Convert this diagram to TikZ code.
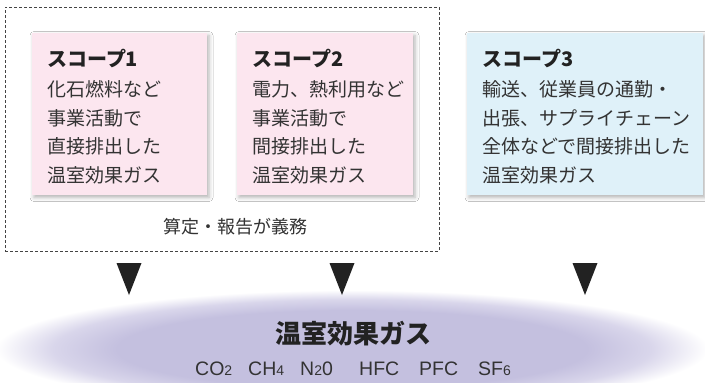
\documentclass[tikz,border=0pt]{standalone}
\usepackage{fontspec}
\usetikzlibrary{shapes.geometric,shadows.blur}
\newfontfamily\jp{Noto Sans CJK JP}
\setmainfont{Liberation Sans}
\definecolor{pinkbg}{HTML}{FCE6EF}
\definecolor{bluebg}{HTML}{DFF1F9}
\definecolor{lav}{HTML}{C4C0DF}
\definecolor{lavmid}{HTML}{D9D6EB}
\definecolor{bodytxt}{HTML}{333333}
\definecolor{titletxt}{HTML}{222222}
\definecolor{dashcol}{HTML}{444444}
\pgfdeclareradialshading{gasglow}{\pgfpoint{0bp}{0bp}}{color(0bp)=(lav); color(16.5bp)=(lav); color(21bp)=(lavmid); color(25bp)=(white); color(50bp)=(white)}
\newcommand{\gsub}[1]{{\fontsize{14}{14}\selectfont\raisebox{-0.5pt}{#1}}}
\begin{document}
\begin{tikzpicture}[x=1pt,y=-1pt,
  scopebox/.style={rectangle, inner sep=0, draw=none,
    blur shadow={shadow xshift=2pt, shadow yshift=-2.5pt, shadow blur radius=4pt, shadow opacity=30}},
  jptitle/.style={anchor=base west, inner sep=0, text=titletxt, font=\jp\bfseries\fontsize{20}{20}\selectfont},
  jpbody/.style={anchor=base west, inner sep=0, text=bodytxt, font=\jp\fontsize{19}{19}\selectfont},
  gasitem/.style={anchor=base west, inner sep=0, text=bodytxt, font=\fontsize{19.5}{19.5}\selectfont},
  tri/.style={fill=titletxt}
]
\useasboundingbox (0,0) rectangle (705,383);
\fill[white] (0,0) rectangle (705,383);
% ellipse
\node[ellipse, shading=gasglow, minimum width=712pt, minimum height=118pt, inner sep=0, draw=none] (gas) at (352,349) {};
% dashed frame
\node[rectangle, draw=dashcol, line width=0.9pt, dash pattern=on 3pt off 2pt, minimum width=434pt, minimum height=244pt, inner sep=0] (frame) at (222,129) {};
% scope boxes
\node[scopebox, fill=pinkbg, minimum width=175pt, minimum height=162pt] (box1) at (119.5,114) {};
\node[scopebox, fill=pinkbg, minimum width=176pt, minimum height=162pt] (box2) at (325,114) {};
\node[scopebox, fill=bluebg, minimum width=236pt, minimum height=162pt] (box3) at (585,114) {};
% box 1 texts
\node[jptitle] (t1) at (47,66.5) {スコープ1};
\node[jpbody] (b1a) at (47,96.5) {化石燃料など};
\node[jpbody] (b1b) at (47,125) {事業活動で};
\node[jpbody] (b1c) at (47,153.5) {直接排出した};
\node[jpbody] (b1d) at (47,182) {温室効果ガス};
% box 2 texts
\node[jptitle] (t2) at (252,66.5) {スコープ2};
\node[jpbody] (b2a) at (252,96.5) {電力、熱利用など};
\node[jpbody] (b2b) at (252,125) {事業活動で};
\node[jpbody] (b2c) at (252,153.5) {間接排出した};
\node[jpbody] (b2d) at (252,182) {温室効果ガス};
% box 3 texts
\node[jptitle] (t3) at (482,66.5) {スコープ3};
\node[jpbody] (b3a) at (482,96.5) {輸送、従業員の通勤・};
\node[jpbody] (b3b) at (482,125) {出張、サプライチェーン};
\node[jpbody] (b3c) at (482,153.5) {全体などで間接排出した};
\node[jpbody] (b3d) at (482,182) {温室効果ガス};
% obligation label
\node[anchor=base, inner sep=0, text=bodytxt, font=\jp\fontsize{18}{18}\selectfont] (duty) at (235,233.5) {算定・報告が義務};
% triangles
\fill[tri] (129,263) ++(-12.5,0) -- ++(25,0) -- ++(-12.5,32) -- cycle;
\fill[tri] (342,263) ++(-12.5,0) -- ++(25,0) -- ++(-12.5,32) -- cycle;
\fill[tri] (585,263) ++(-12.5,0) -- ++(25,0) -- ++(-12.5,32) -- cycle;
% gas texts
\node[anchor=base, inner sep=0, text=titletxt, font=\jp\bfseries\fontsize{26}{26}\selectfont] (gastitle) at (353.5,343) {温室効果ガス};
\node[gasitem] (co2) at (195,375) {CO\gsub{2}};
\node[gasitem] (ch4) at (248,375) {CH\gsub{4}};
\node[gasitem] (n2o) at (300,375) {N\gsub{2}0};
\node[gasitem] (hfc) at (359,375) {HFC};
\node[gasitem] (pfc) at (419,375) {PFC};
\node[gasitem] (sf6) at (478,375) {SF\gsub{6}};
\end{tikzpicture}
\end{document}
